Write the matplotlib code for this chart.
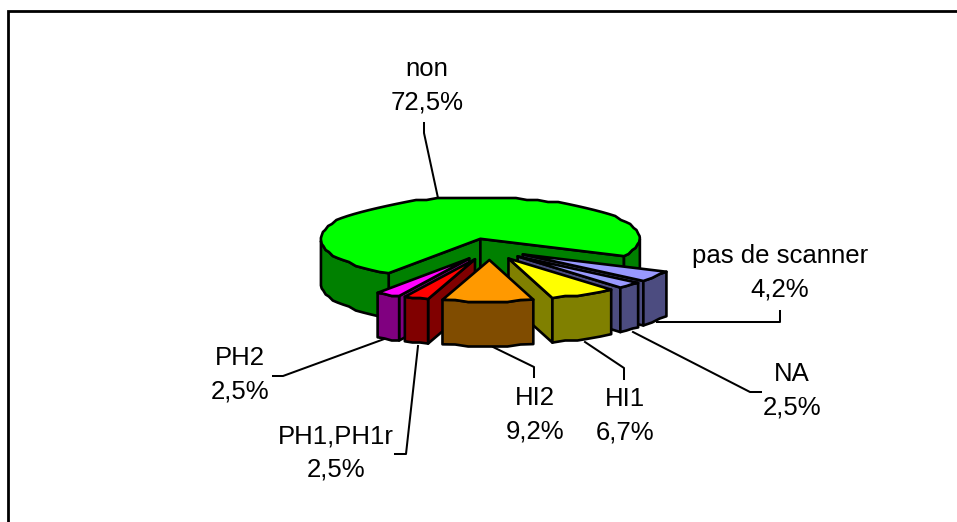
import numpy as np
import matplotlib
matplotlib.use("Agg")
import matplotlib.pyplot as plt
from matplotlib.patches import Polygon

plt.rcParams['font.family'] = ['Liberation Sans', 'DejaVu Sans']

# ---------- data ----------
labels = ["non", "pas de scanner", "NA", "HI1", "HI2", "PH1,PH1r", "PH2"]
values = [72.5, 4.2, 2.5, 6.7, 9.2, 2.5, 2.5]
value_text = ["72,5%", "4,2%", "2,5%", "6,7%", "9,2%", "2,5%", "2,5%"]

# ---------- style ----------
top_colors = ["#00FF00", "#9999FF", "#9999FF", "#FFFF00", "#FF9900", "#FF0000", "#FF00FF"]
side_colors = ["#008000", "#4C4C80", "#4C4C80", "#808000", "#804C00", "#800000", "#800080"]
explode = [32, 40, 40, 40, 40, 40, 40]
draw_order = [0, 1, 2, 3, 6, 5, 4]

label_pos = [(427, 86), (780, 273), (792, 391), (625, 416), (535, 415), (336, 453), (240, 375)]
leaders = [
    [(438, 198), (424, 133), (424, 123)],
    [(657, 322), (780, 322), (780, 311)],
    [(633, 332), (750, 392), (761, 392)],
    [(585, 342), (624, 368), (624, 379)],
    [(493, 347), (534, 367), (534, 377)],
    [(418, 346), (406, 454), (395, 454)],
    [(387, 338), (283, 376), (273, 376)],
]

cx, cy = 489, 248
radius = 159.5
squash = 0.26
depth = 44.5
start = 236  # angle where "non" starts, degrees, going clockwise
lw = 1.9


def face(ax, pts, color):
    ax.add_patch(Polygon(pts, closed=True, facecolor=color, edgecolor="black",
                         linewidth=lw, joinstyle="round"))


def draw_slice(ax, t1, t2, off, top, side):
    # t1 > t2, slice runs clockwise from t1 to t2
    mid = np.radians((t1 + t2) / 2)
    x0 = cx + off * np.cos(mid)
    y0 = cy - off * squash * 1.15 * np.sin(mid)

    def xy(t, dz=0.0):
        t = np.radians(t)
        # small lean of the front edge, the old renderer has some perspective
        x = x0 + radius * np.cos(t) + 3 * np.minimum(np.sin(t), 0)
        y = y0 - radius * squash * np.sin(t)
        # the reference edge is jagged, snap the inner points to a coarse grid
        y[1:-1] = np.round(y[1:-1] / 2) * 2
        return np.column_stack([x, y + dz])

    # cut faces
    for t, visible in ((t1, np.cos(np.radians(t1)) < 0), (t2, np.cos(np.radians(t2)) > 0)):
        if visible:
            edge = xy(np.array([t]))[0]
            face(ax, [(x0, y0), edge, edge + (0, depth), (x0, y0 + depth)], side)

    # outer wall, only the part facing the viewer
    t = np.linspace(t1, t2, max(4, int((t1 - t2) / 4)))
    idx = np.flatnonzero(np.sin(np.radians(t)) <= 0)
    if len(idx):
        runs = np.split(idx, np.flatnonzero(np.diff(idx) > 1) + 1)
        for run in runs:
            face(ax, np.vstack([xy(t[run]), xy(t[run], depth)[::-1]]), side)

    # top
    face(ax, np.vstack([[(x0, y0)], xy(t)]), top)


fig = plt.figure(figsize=(9.57, 5.22), dpi=100)
ax = fig.add_axes([0, 0, 1, 1])
ax.set_xlim(0, 957)
ax.set_ylim(522, 0)
ax.axis("off")

# frame, only top and left show in the crop
ax.plot([8, 8, 957], [522, 11, 11], color="black", lw=2, solid_joinstyle="miter")

# leaders go under the pie
for pts in leaders:
    xs, ys = zip(*pts)
    ax.plot(xs, ys, color="black", lw=1.45, zorder=1)

sweep = 360 * np.array(values) / sum(values)
ends = start - np.cumsum(sweep)
starts = ends + sweep
for i in draw_order:
    draw_slice(ax, starts[i], ends[i], explode[i], top_colors[i], side_colors[i])

for name, val, (x, y) in zip(labels, value_text, label_pos):
    ax.text(x, y, name + "\n" + val, ha="center", va="center", fontsize=18.5,
            linespacing=1.52, color="black", zorder=5)

plt.savefig("out.png", dpi=100)
